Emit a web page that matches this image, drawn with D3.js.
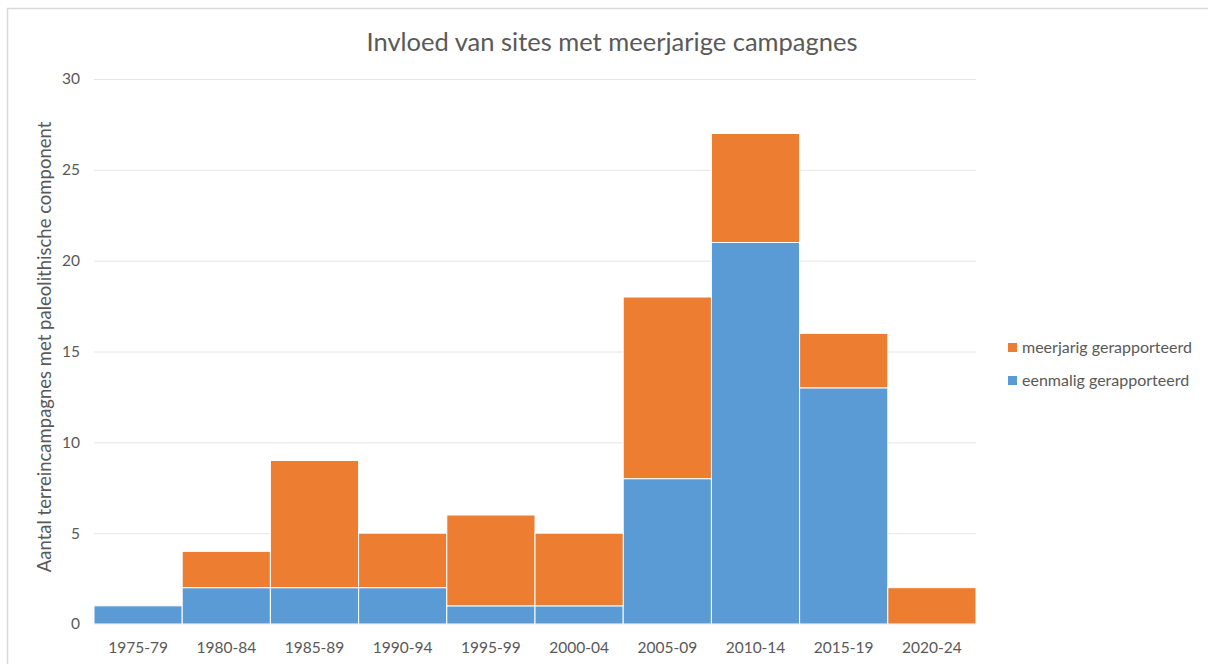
<!DOCTYPE html>
<html>
<head>
<meta charset="utf-8">
<script src="https://cdn.jsdelivr.net/npm/d3@7/dist/d3.min.js"></script>
<style>
  body { margin: 0; background: #fff; }
  svg { display: block; font-family: Lato, "Open Sans", sans-serif; }
</style>
</head>
<body>
<svg id="chart" width="1208" height="664"></svg>
<script>
const periods = ["1975-79", "1980-84", "1985-89", "1990-94", "1995-99", "2000-04", "2005-09", "2010-14", "2015-19", "2020-24"];
const eenmalig = [1, 2, 2, 2, 1, 1, 8, 21, 13, 0];
const meerjarig = [0, 2, 7, 3, 5, 4, 10, 6, 3, 2];
const yTicks = [0, 5, 10, 15, 20, 25, 30];
const seriesNames = ["eenmalig gerapporteerd", "meerjarig gerapporteerd"];

const svg = d3.select("#chart");

// chart frame
svg.append("rect")
    .attr("x", 7.5).attr("y", 8.5)
    .attr("width", 1215).attr("height", 680)
    .attr("fill", "#fff")
    .attr("stroke", "#d9d9d9")
    .attr("stroke-width", 1.5);

const x = d3.scaleBand()
    .domain(periods)
    .range([94, 976])
    .padding(0);

const y = d3.scaleLinear()
    .domain([0, 30])
    .range([624, 79]);

const colors = d3.scaleOrdinal()
    .domain(seriesNames)
    .range(["#5b9bd5", "#ed7d31"]);

// gridlines
svg.append("g")
    .selectAll("line")
    .data(yTicks)
    .join("line")
    .attr("x1", 94).attr("x2", 976)
    .attr("y1", d => y(d) + 0.5).attr("y2", d => y(d) + 0.5)
    .attr("stroke", "#e6e6e6");

// y axis labels
const yAxis = svg.append("g")
    .attr("transform", "translate(94,0)")
    .call(d3.axisLeft(y).tickValues(yTicks).tickSize(0).tickPadding(14));
yAxis.select(".domain").remove();
yAxis.selectAll("text")
    .attr("fill", "#595959")
    .style("font-size", "15.5px")
    .style("font-family", "Lato, 'Open Sans', sans-serif");

// stacked bars
const table = periods.map((p, i) => ({
    period: p,
    "eenmalig gerapporteerd": eenmalig[i],
    "meerjarig gerapporteerd": meerjarig[i]
}));
const stacked = d3.stack().keys(seriesNames)(table);

svg.append("g")
    .selectAll("g")
    .data(stacked)
    .join("g")
    .attr("fill", d => colors(d.key))
    .selectAll("rect")
    .data(d => d.filter(s => s[1] > s[0]))
    .join("rect")
    .attr("x", d => x(d.data.period))
    .attr("y", d => y(d[1]))
    .attr("width", x.bandwidth())
    .attr("height", d => y(d[0]) - y(d[1]))
    .attr("stroke", "#fff")
    .attr("stroke-width", 1);

// x axis labels
const xAxis = svg.append("g")
    .attr("transform", "translate(0,624)")
    .call(d3.axisBottom(x).tickSize(0).tickPadding(18));
xAxis.select(".domain").remove();
xAxis.selectAll("text")
    .attr("fill", "#595959")
    .style("font-size", "15.5px")
    .style("font-family", "Lato, 'Open Sans', sans-serif");

// title
svg.append("text")
    .attr("x", 612).attr("y", 51)
    .attr("text-anchor", "middle")
    .attr("fill", "#595959")
    .style("font-size", "25.5px")
    .text("Invloed van sites met meerjarige campagnes");

// y axis title
svg.append("text")
    .attr("transform", "translate(51,347) rotate(-90)")
    .attr("text-anchor", "middle")
    .attr("fill", "#595959")
    .style("font-size", "18.5px")
    .text("Aantal terreincampagnes met paleolithische component");

// legend
const legendItems = ["meerjarig gerapporteerd", "eenmalig gerapporteerd"];
const legend = svg.append("g").attr("transform", "translate(1008,348)");
legendItems.forEach((key, i) => {
    legend.append("rect")
        .attr("x", 0).attr("y", i * 33 - 5)
        .attr("width", 9).attr("height", 9)
        .attr("fill", colors(key));
    legend.append("text")
        .attr("x", 14).attr("y", i * 33 + 5)
        .attr("fill", "#595959")
        .style("font-size", "16px")
        .text(key);
});
</script>
</body>
</html>
